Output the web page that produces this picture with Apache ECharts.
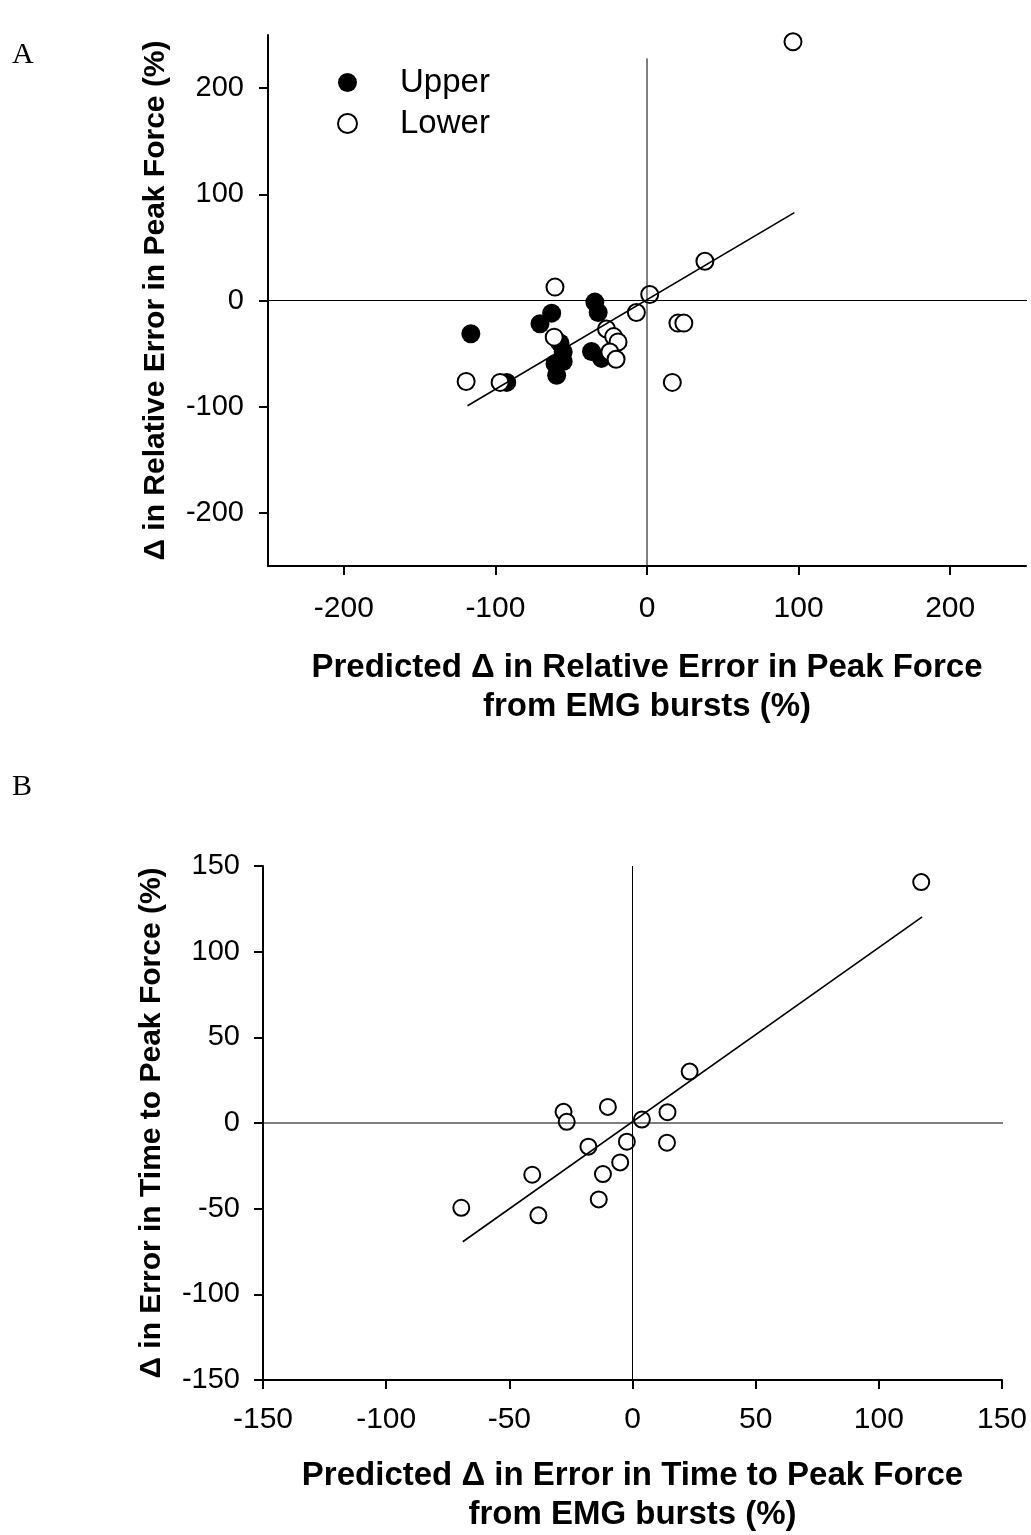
<!DOCTYPE html>
<html>
<head>
<meta charset="utf-8">
<script src="https://cdn.jsdelivr.net/npm/echarts@6/dist/echarts.min.js"></script>
<style>
  html, body { margin: 0; padding: 0; background: #fff; }
  #chart { width: 1031px; height: 1535px; }
</style>
</head>
<body>
<div id="chart"></div>
<script>
// panel A: relative error in peak force
const upperA = [
  [-116.2, -31.3], [-34.4, -1.5], [-32.2, -11.3], [-62.9, -11.9], [-70.6, -21.9],
  [-92.5, -77.1], [-57.4, -40.1], [-55.3, -48.5], [-55.3, -57.4], [-60.7, -59.5],
  [-59.6, -70.5], [-36.6, -48], [-30, -54.5]
];
const lowerA = [
  [-60.7, 12.6], [1.8, 5.6], [38.2, 37], [-7, -11.3], [20.4, -21.3], [24.3, -21.3],
  [-26.7, -26.9], [-61.2, -34.5], [-22, -34], [-19.1, -39], [-24.5, -48.5],
  [-20.4, -55.3], [-119.3, -76.2], [-96.9, -77.1], [16.7, -77.1], [96.3, 243.6]
];
const fitA = [[-118.4, -99.1], [97.2, 82.8]];
const ticksA = [-200, -100, 0, 100, 200];

// panel B: time to peak force
const pointsB = [
  [-69.5, -49.5], [-40.7, -30.2], [-38.2, -53.9], [-28, 6.5], [-26.7, 0.7],
  [-10, 9.4], [-17.9, -13.8], [-12, -29.8], [-13.7, -44.6], [-5, -23],
  [-2.3, -10.9], [3.8, 2], [14.2, 6.3], [14, -11.5], [23.2, 30], [117.2, 140.6]
];
const fitB = [[-68.9, -69.3], [117.6, 120.3]];

const FONT = 'Liberation Sans, Arial, sans-serif';

function valueAxis(gridIndex, min, max, name, nameGap, nameSize, extra) {
  return Object.assign({
    type: 'value',
    gridIndex: gridIndex,
    min: min,
    max: max,
    name: name,
    nameLocation: 'middle',
    nameGap: nameGap,
    nameTextStyle: { fontFamily: FONT, fontWeight: 'bold', fontSize: nameSize, color: '#000', lineHeight: 39 },
    splitLine: { show: false },
    axisLine: { onZero: false, lineStyle: { color: '#000', width: 2 } },
    axisTick: { length: 9, lineStyle: { color: '#000', width: 2 } },
    axisLabel: { fontFamily: FONT, fontSize: 29, color: '#000' }
  }, extra || {});
}

function refLine(xi, yi, pts) {
  return {
    type: 'line', xAxisIndex: xi, yAxisIndex: yi, data: pts,
    symbol: 'none', clip: false, silent: true,
    lineStyle: { color: '#000', width: 1 }
  };
}

function fitLine(xi, yi, pts) {
  return {
    type: 'line', xAxisIndex: xi, yAxisIndex: yi, data: pts,
    symbol: 'none', silent: true,
    lineStyle: { color: '#000', width: 1.6 }
  };
}

const chart = echarts.init(document.getElementById('chart'));

chart.setOption({
  animation: false,
  backgroundColor: '#fff',
  title: [
    { text: 'A', left: 12, top: 40, padding: 0,
      textStyle: { fontFamily: 'Liberation Serif, Times New Roman, serif', fontWeight: 'normal', fontSize: 30, color: '#000' } },
    { text: 'B', left: 12, top: 772, padding: 0,
      textStyle: { fontFamily: 'Liberation Serif, Times New Roman, serif', fontWeight: 'normal', fontSize: 30, color: '#000' } }
  ],
  legend: {
    data: ['Upper', 'Lower'],
    orient: 'vertical',
    left: 332,
    top: 61,
    itemWidth: 19,
    itemHeight: 19,
    itemGap: 8,
    textStyle: { fontFamily: FONT, fontSize: 33, color: '#000', lineHeight: 32, padding: [0, 0, 0, 38] }
  },
  grid: [
    { left: 268, right: 5, top: 35, height: 531 },
    { left: 263, right: 29, top: 866, height: 518 }
  ],
  xAxis: [
    valueAxis(0, -250, 250, 'Predicted \u0394 in Relative Error in Peak Force\nfrom EMG bursts (%)', 82, 33, {
      axisTick: { length: 9, customValues: ticksA, lineStyle: { color: '#000', width: 2 } },
      axisLabel: { fontFamily: FONT, fontSize: 30, color: '#000', margin: 28, customValues: ticksA }
    }),
    valueAxis(1, -150, 150, 'Predicted \u0394 in Error in Time to Peak Force\nfrom EMG bursts (%)', 76, 33, {
      interval: 50,
      axisLabel: { fontFamily: FONT, fontSize: 30, color: '#000', margin: 25 }
    })
  ],
  yAxis: [
    valueAxis(0, -250, 250, '\u0394 in Relative Error in Peak Force (%)', 92, 30, {
      axisTick: { length: 9, customValues: ticksA, lineStyle: { color: '#000', width: 2 } },
      axisLabel: { fontFamily: FONT, fontSize: 29, color: '#000', margin: 24, customValues: ticksA }
    }),
    valueAxis(1, -150, 150, '\u0394 in Error in Time to Peak Force (%)', 87, 30, {
      interval: 50,
      axisLabel: { fontFamily: FONT, fontSize: 29, color: '#000', margin: 23 }
    })
  ],
  series: [
    refLine(0, 0, [[0, -250], [0, 228]]),
    refLine(0, 0, [[-250, 0], [255, 0]]),
    refLine(1, 1, [[0, -150], [0, 150]]),
    refLine(1, 1, [[-150, 0], [158, 0]]),
    fitLine(0, 0, fitA),
    fitLine(1, 1, fitB),
    {
      name: 'Upper', type: 'scatter', xAxisIndex: 0, yAxisIndex: 0,
      data: upperA, symbol: 'circle', symbolSize: 19,
      itemStyle: { color: '#000', opacity: 1 }
    },
    {
      name: 'Lower', type: 'scatter', xAxisIndex: 0, yAxisIndex: 0,
      data: lowerA, symbol: 'circle', symbolSize: 17,
      itemStyle: { color: '#fff', borderColor: '#000', borderWidth: 2, opacity: 1 }
    },
    {
      name: 'Time to peak', type: 'scatter', xAxisIndex: 1, yAxisIndex: 1,
      data: pointsB, symbol: 'circle', symbolSize: 16,
      itemStyle: { color: '#fff', borderColor: '#000', borderWidth: 2, opacity: 1 }
    }
  ]
});
</script>
</body>
</html>
